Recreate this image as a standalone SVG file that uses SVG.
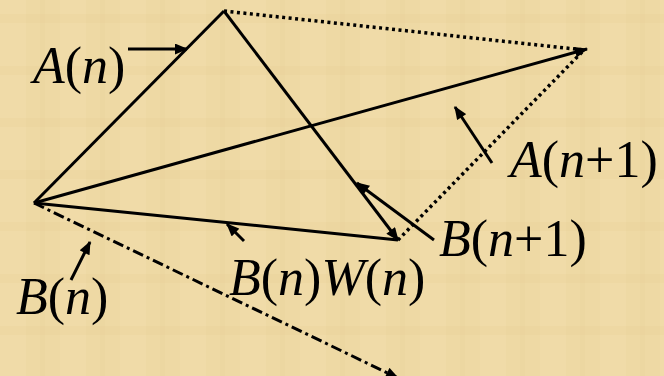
<svg xmlns="http://www.w3.org/2000/svg" width="664" height="376" viewBox="0 0 664 376">
<defs>
<style>
.ln{stroke:#000;stroke-width:3;fill:none}
.dot{stroke-dasharray:3 3.5;stroke-width:3.5}
.dd{stroke-dasharray:11 4 3 4}
.ptr{stroke:#000;stroke-width:3;fill:none}
text{font-family:"Liberation Serif","Times New Roman",serif;font-size:52px;fill:#000}
.i{font-style:italic}
</style>
<marker id="ah" viewBox="0 0 12 10" refX="11" refY="5" markerWidth="14" markerHeight="11" markerUnits="userSpaceOnUse" orient="auto">
<path d="M0,0 L12,5 L0,10 Z" fill="#000"/>
</marker>
<pattern id="tex" width="60" height="52" patternUnits="userSpaceOnUse">
<rect width="60" height="52" fill="#EED9A4"/>
<rect x="0" y="0" width="26" height="52" fill="#F1DDAB" opacity="0.5"/>
<rect x="0" y="14" width="60" height="9" fill="#EAD39A" opacity="0.3"/>
<rect x="40" y="0" width="5" height="52" fill="#E9D196" opacity="0.25"/>
</pattern>
</defs>
<rect width="664" height="376" fill="url(#tex)"/>
<g id="connectors">
<line class="ln" x1="34" y1="203" x2="224" y2="11"/>
<line class="ln" x1="224" y1="11" x2="398" y2="240" marker-end="url(#ah)"/>
<line class="ln" x1="34" y1="203" x2="587" y2="49" marker-end="url(#ah)"/>
<line class="ln" x1="34" y1="203" x2="398" y2="240"/>
<line class="ln dot" x1="224" y1="11" x2="584" y2="50"/>
<line class="ln dot" x1="398" y1="240" x2="584" y2="50"/>
<line class="ln dd" x1="34" y1="203" x2="398" y2="378" marker-end="url(#ah)"/>
<line class="ptr" x1="128" y1="49" x2="187" y2="49" marker-end="url(#ah)"/>
<line class="ptr" x1="492" y1="163" x2="455" y2="107" marker-end="url(#ah)"/>
<line class="ptr" x1="434" y1="240" x2="357" y2="183" marker-end="url(#ah)"/>
<line class="ptr" x1="71" y1="280" x2="90" y2="242" marker-end="url(#ah)"/>
<line class="ptr" x1="244" y1="241" x2="227" y2="224" marker-end="url(#ah)"/>
</g>
<g id="label-An"><text x="33" y="83"><tspan class="i">A</tspan>(<tspan class="i">n</tspan>)</text></g>
<g id="label-An1"><text x="510" y="177"><tspan class="i">A</tspan>(<tspan class="i">n</tspan>+1)</text></g>
<g id="label-Bn1"><text x="439" y="256"><tspan class="i">B</tspan>(<tspan class="i">n</tspan>+1)</text></g>
<g id="label-BnWn"><text x="229" y="295"><tspan class="i">B</tspan>(<tspan class="i">n</tspan>)<tspan class="i">W</tspan>(<tspan class="i">n</tspan>)</text></g>
<g id="label-Bn"><text x="16" y="314"><tspan class="i">B</tspan>(<tspan class="i">n</tspan>)</text></g>
</svg>
